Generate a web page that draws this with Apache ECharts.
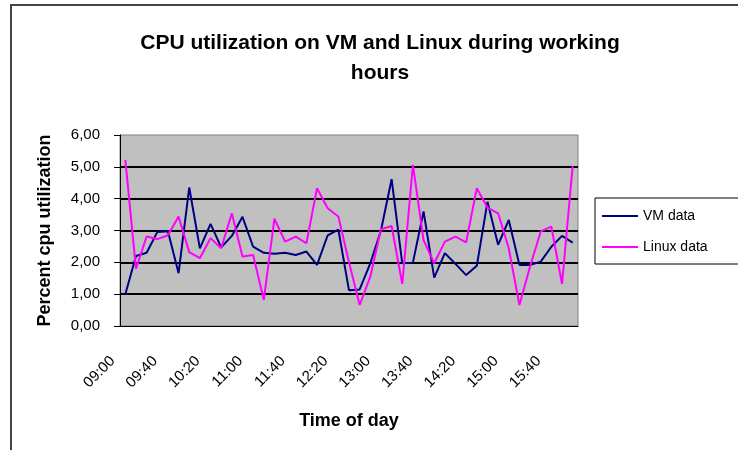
<!DOCTYPE html>
<html>
<head>
<meta charset="utf-8">
<script src="https://cdn.jsdelivr.net/npm/echarts@6/dist/echarts.min.js"></script>
<style>
  html, body { margin: 0; padding: 0; background: #fff; }
  #cpuchart { width: 738px; height: 450px; }
</style>
</head>
<body>
<div id="cpuchart"></div>
<script>
// time of day, one sample every 10 minutes
var times = ['09:00', '09:10', '09:20', '09:30', '09:40', '09:50',
	'10:00', '10:10', '10:20', '10:30', '10:40', '10:50',
	'11:00', '11:10', '11:20', '11:30', '11:40', '11:50',
	'12:00', '12:10', '12:20', '12:30', '12:40', '12:50',
	'13:00', '13:10', '13:20', '13:30', '13:40', '13:50',
	'14:00', '14:10', '14:20', '14:30', '14:40', '14:50',
	'15:00', '15:10', '15:20', '15:30', '15:40', '15:50', '16:00'];

var vmData = [1.00, 2.20, 2.30, 2.95, 2.98, 1.66, 4.35, 2.44, 3.21, 2.47, 2.83,
	3.43, 2.49, 2.30, 2.27, 2.30, 2.23, 2.34, 1.92, 2.85, 3.03, 1.12,
	1.15, 1.97, 3.00, 4.61, 1.97, 1.99, 3.60, 1.52, 2.29, 1.95, 1.60,
	1.89, 3.90, 2.55, 3.33, 1.92, 1.92, 2.02, 2.49, 2.83, 2.62];

var linuxData = [5.22, 1.80, 2.81, 2.73, 2.85, 3.44, 2.32, 2.13, 2.76, 2.44, 3.54,
	2.18, 2.23, 0.82, 3.37, 2.65, 2.81, 2.60, 4.33, 3.70, 3.44, 2.00,
	0.66, 1.55, 3.04, 3.14, 1.32, 5.06, 2.70, 1.97, 2.65, 2.81, 2.63,
	4.33, 3.72, 3.54, 2.44, 0.66, 1.87, 2.97, 3.12, 1.32, 5.03];

var yTicks = [0, 1, 2, 3, 4, 5, 6];

var font = 'Arial, "Liberation Sans", sans-serif';

var option = {
	animation: false,
	textStyle: { fontFamily: font },
	title: {
		text: 'CPU utilization on VM and Linux during working\nhours',
		left: 375,
		top: 23,
		textAlign: 'center',
		textStyle: {
			fontSize: 21,
			fontWeight: 'bold',
			color: '#000',
			lineHeight: 30
		}
	},
	graphic: [
		{
			type: 'rect',
			shape: { x: 11, y: 5, width: 800, height: 500 },
			style: { fill: 'none', stroke: '#444', lineWidth: 2 },
			silent: true
		},
		{
			type: 'rect',
			shape: { x: 595, y: 198, width: 200, height: 66 },
			style: { fill: '#fff', stroke: '#000', lineWidth: 1 },
			silent: true
		}
	],
	legend: {
		orient: 'vertical',
		left: 597,
		top: 204,
		itemWidth: 36,
		itemHeight: 2,
		itemGap: 17,
		icon: 'rect',
		textStyle: { fontSize: 14, color: '#000' },
		data: ['VM data', 'Linux data']
	},
	grid: {
		show: true,
		left: 120,
		top: 135,
		width: 458,
		height: 191,
		backgroundColor: '#c0c0c0',
		borderColor: '#808080',
		borderWidth: 1
	},
	xAxis: {
		type: 'category',
		data: times,
		boundaryGap: true,
		name: 'Time of day',
		nameLocation: 'middle',
		nameGap: 86,
		nameTextStyle: { fontSize: 18, fontWeight: 'bold', color: '#000' },
		axisLine: { lineStyle: { color: '#000', width: 1 } },
		axisTick: { interval: 0, length: 5, lineStyle: { color: '#000' } },
		axisLabel: {
			interval: 3,
			rotate: 45,
			margin: 20,
			padding: [0, 18, 0, 0],
			fontSize: 15,
			color: '#000'
		},
		splitLine: { show: false }
	},
	yAxis: {
		type: 'value',
		min: yTicks[0],
		max: yTicks[yTicks.length - 1],
		interval: 1,
		name: 'Percent cpu utilization',
		nameLocation: 'middle',
		nameRotate: 90,
		nameGap: 66,
		nameTextStyle: { fontSize: 18, fontWeight: 'bold', color: '#000' },
		axisLine: { show: true, lineStyle: { color: '#000', width: 1 } },
		axisTick: { show: true, length: 6, lineStyle: { color: '#000' } },
		axisLabel: {
			margin: 20,
			fontSize: 15,
			color: '#000',
			formatter: function (v) { return v.toFixed(2).replace('.', ','); }
		},
		splitLine: {
			showMinLine: false,
			showMaxLine: false,
			lineStyle: { color: '#000', width: 2 }
		}
	},
	series: [
		{
			name: 'VM data',
			type: 'line',
			data: vmData,
			showSymbol: false,
			lineStyle: { color: '#000080', width: 2 },
			itemStyle: { color: '#000080' }
		},
		{
			name: 'Linux data',
			type: 'line',
			data: linuxData,
			showSymbol: false,
			lineStyle: { color: '#ff00ff', width: 2 },
			itemStyle: { color: '#ff00ff' }
		}
	]
};

var chartDom = document.getElementById('cpuchart');
var cpuChart = echarts.init(chartDom);
cpuChart.setOption(option);
window.addEventListener('resize', function () {
	cpuChart.resize();
});
</script>
</body>
</html>
